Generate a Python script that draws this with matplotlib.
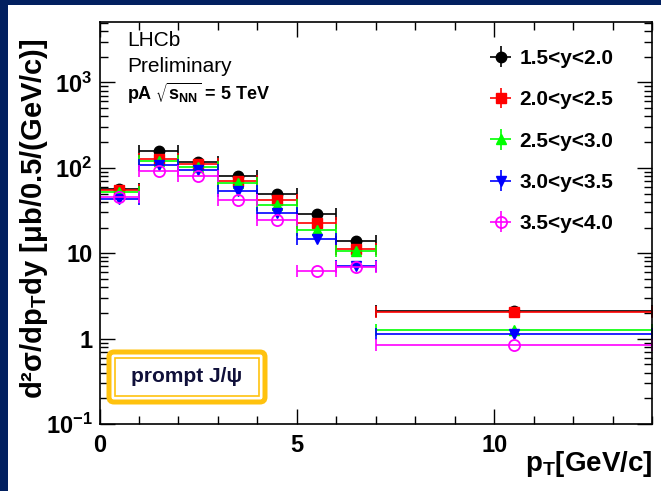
"""Prompt J/psi double-differential cross-section in pA collisions, per rapidity bin."""

import numpy as np
import matplotlib

matplotlib.use("Agg")
import matplotlib.pyplot as plt
from matplotlib.patches import FancyBboxPatch, Rectangle
from matplotlib.ticker import FixedLocator, FixedFormatter, LogLocator, MultipleLocator, NullFormatter

# pT bin edges [GeV/c]
pt_edges = [0, 1, 2, 3, 4, 5, 6, 7, 14]

# d2sigma/dpT dy [ub/0.5/(GeV/c)] per rapidity bin
xs_y15_20 = [56, 156, 116, 81, 50, 29, 13.9, 2.1]
xs_y20_25 = [55, 128, 111, 70, 42, 22.7, 11.3, 2.05]
xs_y25_30 = [52, 119, 101, 67, 37, 18.8, 10.6, 1.25]
xs_y30_35 = [43, 108, 95, 53, 29.4, 14.5, 7.0, 1.12]
xs_y35_40 = [45, 91, 80, 42, 24.7, 6.2, 6.9, 0.85]

labels = ["1.5<y<2.0", "2.0<y<2.5", "2.5<y<3.0", "3.0<y<3.5", "3.5<y<4.0"]
series = [xs_y15_20, xs_y20_25, xs_y25_30, xs_y30_35, xs_y35_40]
styles = [
    dict(color="black", marker="o", ms=7.5, mfc="black"),
    dict(color="red", marker="s", ms=7, mfc="red"),
    dict(color="#00ff00", marker="^", ms=7.5, mfc="#00ff00"),
    dict(color="blue", marker="v", ms=7.5, mfc="blue"),
    dict(color="magenta", marker="o", ms=8, mfc="none", mew=1.3),
]

plt.rcParams["font.family"] = "Liberation Sans"
plt.rcParams["mathtext.default"] = "regular"

W, H = 661, 491
fig = plt.figure(figsize=(W / 100, H / 100), dpi=100, facecolor="#022060")
# white slide panel, behind everything else
fig.patches.append(Rectangle((8 / W, 0), 1 - 8 / W, 1 - 5 / H, transform=fig.transFigure,
                             facecolor="white", edgecolor="none", zorder=-10))

ax = fig.add_axes([99.5 / W, 1 - 424 / H, (652 - 99.5) / W, (424 - 22) / H], zorder=1)
ax.set_facecolor("white")

edges = np.asarray(pt_edges, dtype=float)
centers = 0.5 * (edges[1:] + edges[:-1])
half = 0.5 * np.diff(edges)

handles = []
for vals, st in zip(series, styles):
    ax.errorbar(centers, vals, xerr=half, fmt="none", ecolor=st["color"], elinewidth=1.2,
                capsize=4, capthick=1.2)
    ax.plot(centers, vals, ls="none", marker=st["marker"], ms=st["ms"], mfc=st["mfc"],
            mec=st["color"], mew=st.get("mew", 1.0))
    h = ax.errorbar([np.nan], [np.nan], xerr=[1], yerr=[1], color=st["color"], ls="none",
                    marker=st["marker"], ms=st["ms"], mfc=st["mfc"], mec=st["color"],
                    mew=st.get("mew", 1.0), elinewidth=1.2, capsize=0)
    handles.append(h)

ax.set_yscale("log")
ax.set_xlim(0, 14)
ax.set_ylim(0.1, 5100)

ax.xaxis.set_major_locator(MultipleLocator(5))
ax.xaxis.set_minor_locator(MultipleLocator(1))
ax.yaxis.set_major_locator(FixedLocator([0.1, 1, 10, 100, 1000]))
ax.yaxis.set_major_formatter(FixedFormatter(["$10^{-1}$", "1", "10", "$10^{2}$", "$10^{3}$"]))
ax.yaxis.set_minor_locator(LogLocator(base=10, subs=np.arange(2, 10)))
ax.yaxis.set_minor_formatter(NullFormatter())

ax.tick_params(which="both", direction="in", top=True, right=True, width=1.0, color="black")
ax.tick_params(which="major", length=10.5)
ax.tick_params(which="minor", length=5.5)
ax.tick_params(axis="x", which="major", pad=7, labelsize=17)
ax.tick_params(axis="y", which="major", pad=5, labelsize=17)
for lab in ax.get_xticklabels() + ax.get_yticklabels():
    lab.set_fontweight("bold")
for sp in ax.spines.values():
    sp.set_linewidth(1.2)

ax.set_ylabel("d²σ/dp$_{T}$dy [μb/0.5/(GeV/c)]", fontsize=21, fontweight="bold")
ax.yaxis.set_label_coords(-0.09, 0.51)
ax.text(1.0, -0.062, "p$_{T}$[GeV/c]", transform=ax.transAxes, ha="right", va="top",
        fontsize=20, fontweight="bold")

# experiment tag
ax.text(127 / W, 1 - 46 / H, "LHCb", transform=fig.transFigure, fontsize=15, va="baseline")
ax.text(127 / W, 1 - 72 / H, "Preliminary", transform=fig.transFigure, fontsize=15, va="baseline")
ax.text(127 / W, 1 - 100 / H, r"pA $\sqrt{s_{NN}}$ = 5 TeV", transform=fig.transFigure,
        fontsize=13, fontweight="bold", va="baseline")

leg = ax.legend(handles, labels, loc="upper left", bbox_to_anchor=(488 / W, 1 - 49 / H),
                bbox_transform=fig.transFigure, frameon=False, fontsize=15,
                handlelength=1.2, handletextpad=0.3, labelspacing=1.07,
                borderpad=0, borderaxespad=0)
for t in leg.get_texts():
    t.set_fontweight("bold")

# "prompt J/psi" badge: thick rounded orange frame with a thin inner line
orange = "#ffc20e"
inch = fig.dpi_scale_trans
outer = FancyBboxPatch((109 / 100, (H - 402) / 100), 156 / 100, 50 / 100,
                       boxstyle="round,pad=0,rounding_size=0.05", transform=inch,
                       facecolor="white", edgecolor=orange, linewidth=3.6, zorder=5)
inner = Rectangle((115 / 100, (H - 396) / 100), 144 / 100, 38 / 100, transform=inch,
                  facecolor="none", edgecolor=orange, linewidth=1.2, zorder=6)
fig.patches.extend([outer, inner])
fig.text(187 / W, 1 - 377 / H, "prompt J/ψ", ha="center", va="center", fontsize=15,
         fontweight="bold", color="#10103a", zorder=7)

fig.savefig("out.png", dpi=100, facecolor=fig.get_facecolor())
